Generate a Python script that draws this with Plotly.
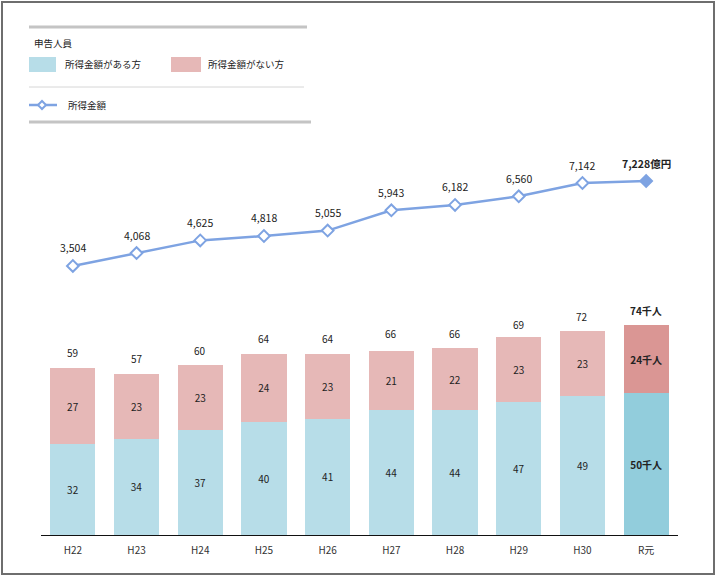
import plotly.graph_objects as go

categories = ["H22", "H23", "H24", "H25", "H26", "H27", "H28", "H29", "H30", "R元"]
with_income = [32, 34, 37, 40, 41, 44, 44, 47, 49, 50]
without_income = [27, 23, 23, 24, 23, 21, 22, 23, 23, 24]
totals = [59, 57, 60, 64, 64, 66, 66, 69, 72, 74]
income_amount = [3504, 4068, 4625, 4818, 5055, 5943, 6182, 6560, 7142, 7228]

FONT = "Noto Sans CJK JP, Noto Sans, sans-serif"
BLUE = "#b7dde8"
BLUE_D = "#92cddc"
PINK = "#e6b8b7"
PINK_D = "#da9694"
LINE = "#7ea3e2"

L, R, T, B = 41, 678, 130, 535
W, H = 720, 579


def px(x):
    return (x - L) / (R - L)


def py(y):
    return (B - y) / (B - T)


n = len(categories)
blue_colors = [BLUE] * (n - 1) + [BLUE_D]
pink_colors = [PINK] * (n - 1) + [PINK_D]
blue_text = [str(v) for v in with_income[:-1]] + [f"<b>{with_income[-1]}千人</b>"]
pink_text = [str(v) for v in without_income[:-1]] + [f"<b>{without_income[-1]}千人</b>"]

fig = go.Figure()
fig.add_trace(go.Bar(
    x=categories, y=with_income, marker=dict(color=blue_colors, line=dict(width=0)),
    text=blue_text, textposition="inside", insidetextanchor="middle",
    textfont=dict(size=10, color="#222", family=FONT), textangle=0, showlegend=False,
))
fig.add_trace(go.Bar(
    x=categories, y=without_income, marker=dict(color=pink_colors, line=dict(width=0)),
    text=pink_text, textposition="inside", insidetextanchor="middle",
    textfont=dict(size=10, color="#222", family=FONT), textangle=0, showlegend=False,
))
fig.add_trace(go.Scatter(
    x=categories, y=income_amount, yaxis="y2", mode="lines+markers",
    line=dict(color=LINE, width=2.5),
    marker=dict(symbol="diamond", size=9, color=["white"] * (n - 1) + [LINE],
                line=dict(color=LINE, width=2)),
    showlegend=False,
))

annotations = []
for i, (c, t) in enumerate(zip(categories, totals)):
    txt = f"<b>{t}千人</b>" if i == n - 1 else str(t)
    annotations.append(dict(x=c, y=t, xref="x", yref="y", text=txt, showarrow=False,
                            yshift=15, font=dict(size=10, color="#222", family=FONT)))
for i, (c, v) in enumerate(zip(categories, income_amount)):
    txt = f"<b>{v:,}億円</b>" if i == n - 1 else f"{v:,}"
    annotations.append(dict(x=c, y=v, xref="x", yref="y2", text=txt, showarrow=False,
                            yshift=18, font=dict(size=10.5, color="#222", family=FONT)))

# custom legend
leg_font = dict(size=9.5, color="#222", family=FONT)
annotations += [
    dict(x=px(32), y=py(43), xref="paper", yref="paper", text="申告人員", showarrow=False,
         xanchor="left", yanchor="middle", font=leg_font),
    dict(x=px(63), y=py(64), xref="paper", yref="paper", text="所得金額がある方", showarrow=False,
         xanchor="left", yanchor="middle", font=leg_font),
    dict(x=px(206), y=py(64), xref="paper", yref="paper", text="所得金額がない方", showarrow=False,
         xanchor="left", yanchor="middle", font=leg_font),
    dict(x=px(66), y=py(105), xref="paper", yref="paper", text="所得金額", showarrow=False,
         xanchor="left", yanchor="middle", font=leg_font),
]

shapes = [
    dict(type="rect", xref="paper", yref="paper", x0=px(2), x1=px(714), y0=py(574), y1=py(2),
         line=dict(color="#6e6e6e", width=2), fillcolor="rgba(0,0,0,0)", layer="below"),
    dict(type="line", xref="paper", yref="paper", x0=px(29), x1=px(307), y0=py(27), y1=py(27),
         line=dict(color="#c4c4c4", width=3)),
    dict(type="rect", xref="paper", yref="paper", x0=px(29), x1=px(56), y0=py(72), y1=py(57),
         fillcolor=BLUE, line=dict(width=0)),
    dict(type="rect", xref="paper", yref="paper", x0=px(171), x1=px(201), y0=py(72), y1=py(57),
         fillcolor=PINK, line=dict(width=0)),
    dict(type="line", xref="paper", yref="paper", x0=px(29), x1=px(304), y0=py(87), y1=py(87),
         line=dict(color="#d6d6d6", width=1)),
    dict(type="line", xref="paper", yref="paper", x0=px(29), x1=px(57), y0=py(105), y1=py(105),
         line=dict(color=LINE, width=2.5)),
    dict(type="path", xref="paper", yref="paper",
         path=f"M {px(38)} {py(105)} L {px(42)} {py(101)} L {px(46)} {py(105)} L {px(42)} {py(109)} Z",
         fillcolor="white", line=dict(color=LINE, width=2)),
    dict(type="line", xref="paper", yref="paper", x0=px(29), x1=px(311), y0=py(122), y1=py(122),
         line=dict(color="#c4c4c4", width=3)),
]

fig.update_layout(
    width=W, height=H, barmode="stack", bargap=0.29,
    margin=dict(l=L, r=W - R, t=T, b=H - B),
    paper_bgcolor="white", plot_bgcolor="white",
    font=dict(family=FONT, size=10, color="#222"),
    xaxis=dict(showline=True, linecolor="#111", linewidth=1.2, ticks="", showgrid=False,
               tickfont=dict(size=10, color="#333", family=FONT), range=[-0.5, 9.5],
               ticklabelstandoff=6),
    yaxis=dict(range=[0, 143], visible=False, showgrid=False, zeroline=False),
    yaxis2=dict(range=[-8294, 9466], overlaying="y", visible=False, showgrid=False, zeroline=False),
    annotations=annotations, shapes=shapes,
    uniformtext=dict(minsize=8, mode="show"),
)

fig.write_html("out.html", config={"displayModeBar": False},
               post_script="document.body.style.margin='0';document.body.style.overflow='hidden';")
